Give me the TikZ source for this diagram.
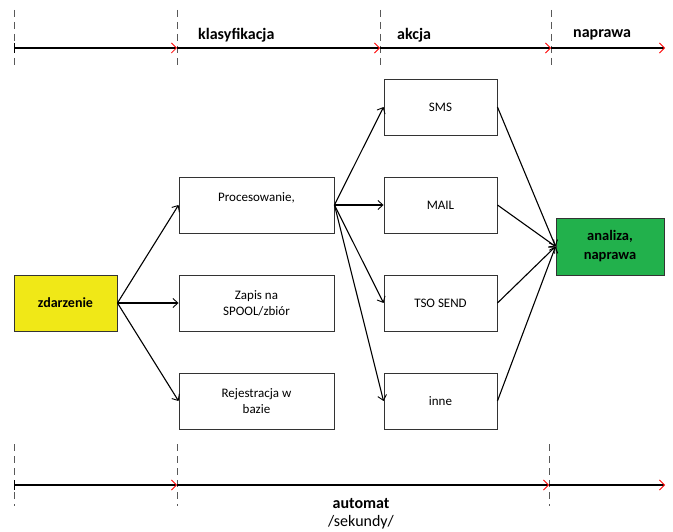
\documentclass[tikz,border=0pt]{standalone}
\usepackage{fontspec}
\setmainfont{Carlito}
\usetikzlibrary{arrows.meta}
\definecolor{yel}{HTML}{F0E817}
\definecolor{grn}{HTML}{22B14C}
\begin{document}
\begin{tikzpicture}[x=1pt,y=-1pt,
  box/.style={draw=black!80,line width=0.9pt,minimum width=155pt,minimum height=56pt,inner sep=0pt,align=center,font=\fontsize{13}{16}\selectfont},
  sbox/.style={box,minimum width=113pt},
  conn/.style={line width=1.1pt,-{Straight Barb[length=5pt,width=9pt,line width=0.9pt]}},
  tl/.style={line width=1.3pt,-{Straight Barb[length=5pt,width=10pt,line width=0.8pt,red]}},
  tick/.style={gray!70!black,line width=1pt,dash pattern=on 7pt off 5pt},
  lab/.style={font=\bfseries\fontsize{16}{18}\selectfont,anchor=west,inner sep=0pt}]
\useasboundingbox (0,0) rectangle (673,532);
% top timeline
\foreach \n/\x in {t0/14,t1/177,t2/380,t3/551}{
  \coordinate (\n) at (\x,48);
  \coordinate (\n a) at (\x,10);
  \coordinate (\n b) at (\x,68);
  \draw[tick] (\n a) -- (\n b);
}
\coordinate (t4) at (665,48);
\draw[tl] (t0) -- (t1);
\draw[tl] (t1) -- (t2);
\draw[tl] (t2) -- (t3);
\draw[tl] (t3) -- (t4);
\draw[line width=1pt] (14,43) -- (14,53);
\node[lab] (l1) at (198,35) {klasyfikacja};
\node[lab] (l2) at (397,35) {akcja};
\node[lab] (l3) at (573,35) {naprawa};
% bottom timeline
\foreach \n/\x in {b0/14,b1/177,b2/549}{
  \coordinate (\n) at (\x,485);
  \coordinate (\n a) at (\x,444);
  \coordinate (\n b) at (\x,506);
  \draw[tick] (\n a) -- (\n b);
}
\coordinate (b3) at (665,485);
\draw[tl] (b0) -- (b1);
\draw[tl] (b1) -- (b2);
\draw[tl] (b2) -- (b3);
\draw[line width=1pt] (14,480) -- (14,490);
\node[font=\bfseries\fontsize{16}{18}\selectfont,inner sep=0pt] (aut) at (361,504) {automat};
\node[font=\fontsize{16}{18}\selectfont,inner sep=0pt] (sek) at (361,522) {/sekundy/};
% boxes
\node[box,fill=yel,minimum width=103pt,font=\bfseries\fontsize{14}{16}\selectfont] (zd) at (65.5,303) {zdarzenie};
\node[box] (pr) at (256.5,205) {Procesowanie,\\~};
\node[box] (za) at (256.5,303) {Zapis na\\SPOOL/zbiór};
\node[box] (re) at (256.5,401) {Rejestracja w\\bazie};
\node[sbox] (sms) at (440.5,107) {SMS};
\node[sbox] (mail) at (440.5,205) {MAIL};
\node[sbox] (tso) at (440.5,303) {TSO SEND};
\node[sbox] (inne) at (440.5,401) {inne};
\node[box,fill=grn,minimum width=108pt,minimum height=57pt,font=\bfseries\fontsize{14.5}{19}\selectfont] (an) at (610,246.5) {analiza,\\naprawa};
% connectors
\foreach \t in {pr,za,re} \draw[conn] (zd.east) -- (\t.west);
\foreach \t in {sms,mail,tso,inne} \draw[conn] (pr.east) -- (\t.west);
\foreach \s in {sms,mail,tso,inne} \draw[conn] (\s.east) -- (an.west);
\end{tikzpicture}
\end{document}
